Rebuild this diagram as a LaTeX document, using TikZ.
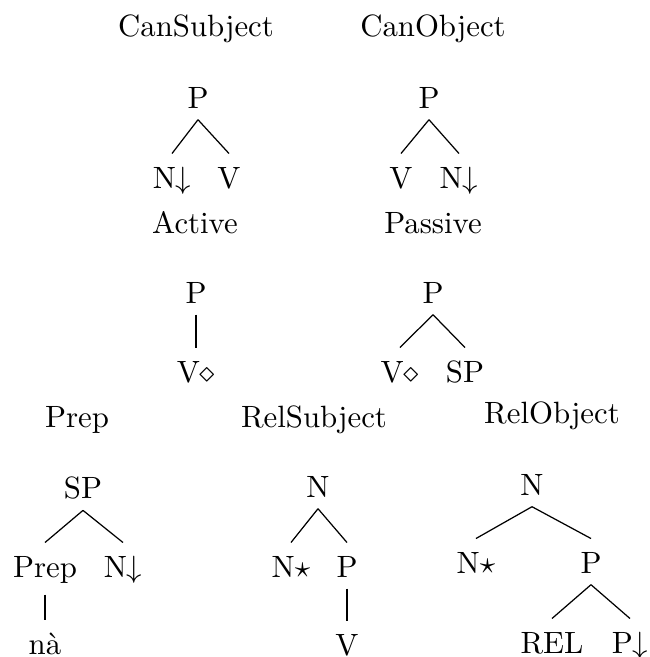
\documentclass[tikz,border=0pt]{standalone}
\usepackage{amsmath}
\usepackage{fontspec}
\usepackage{tikz}
\tikzstyle{tn} = [anchor=base, inner xsep=0pt, inner ysep=3.6pt, text height=7.4pt]
\tikzstyle{lbl} = [anchor=base, inner sep=0pt]
\tikzstyle{edge} = [draw, line width=0.4pt]

\begin{document}
\begin{tikzpicture}[x=0.3247pt, y=-0.3247pt]
      \useasboundingbox (0,0) rectangle (650,657);

      % tree names
      \node[lbl] (cansubj) at (196,36) {CanSubject};
      \node[lbl] (canobj) at (433,36) {CanObject};
      \node[lbl] (active) at (195,233) {Active};
      \node[lbl] (passive) at (433,233) {Passive};
      \node[lbl] (prep) at (77,427) {Prep};
      \node[lbl] (relsubj) at (314,427) {RelSubject};
      \node[lbl] (relobj) at (552,423) {RelObject};

      % CanSubject
      \node[tn] (cs-p) at (198,108) {P};
      \node[tn] (cs-n) at (172,188) {N$\downarrow$};
      \node[tn] (cs-v) at (229,188) {V};
      \path[edge] (cs-p.south) -- (cs-n.north);
      \path[edge] (cs-p.south) -- (cs-v.north);

      % CanObject
      \node[tn] (co-p) at (429,108) {P};
      \node[tn] (co-v) at (401,188) {V};
      \node[tn] (co-n) at (459,188) {N$\downarrow$};
      \path[edge] (co-p.south) -- (co-v.north);
      \path[edge] (co-p.south) -- (co-n.north);

      % Active
      \node[tn] (ac-p) at (196,303) {P};
      \node[tn] (ac-v) at (196,382) {V$\diamond$};
      \path[edge] (ac-p.south) -- (ac-v.north);

      % Passive
      \node[tn] (pa-p) at (433,303) {P};
      \node[tn] (pa-v) at (400,382) {V$\diamond$};
      \node[tn] (pa-sp) at (465,382) {SP};
      \path[edge] (pa-p.south) -- (pa-v.north);
      \path[edge] (pa-p.south) -- (pa-sp.north);

      % Prep
      \node[tn] (pr-sp) at (83,498) {SP};
      \node[tn] (pr-prep) at (45,577) {Prep};
      \node[tn] (pr-n) at (123,577) {N$\downarrow$};
      \node[tn] (pr-na) at (45,654) {nà};
      \path[edge] (pr-sp.south) -- (pr-prep.north);
      \path[edge] (pr-sp.south) -- (pr-n.north);
      \path[edge] (pr-prep.south) -- (pr-na.north);

      % RelSubject
      \node[tn] (rs-n) at (318,497) {N};
      \node[tn] (rs-foot) at (291,577) {N$\star$};
      \node[tn] (rs-p) at (347,577) {P};
      \node[tn] (rs-v) at (347,655) {V};
      \path[edge] (rs-n.south) -- (rs-foot.north);
      \path[edge] (rs-n.south) -- (rs-p.north);
      \path[edge] (rs-p.south) -- (rs-v.north);

      % RelObject
      \node[tn] (ro-n) at (532,495) {N};
      \node[tn] (ro-foot) at (476,573) {N$\star$};
      \node[tn] (ro-p) at (591,573) {P};
      \node[tn] (ro-rel) at (552,653) {REL};
      \node[tn] (ro-sub) at (630,653) {P$\downarrow$};
      \path[edge] (ro-n.south) -- (ro-foot.north);
      \path[edge] (ro-n.south) -- (ro-p.north);
      \path[edge] (ro-p.south) -- (ro-rel.north);
      \path[edge] (ro-p.south) -- (ro-sub.north);
    \end{tikzpicture}
\end{document}
